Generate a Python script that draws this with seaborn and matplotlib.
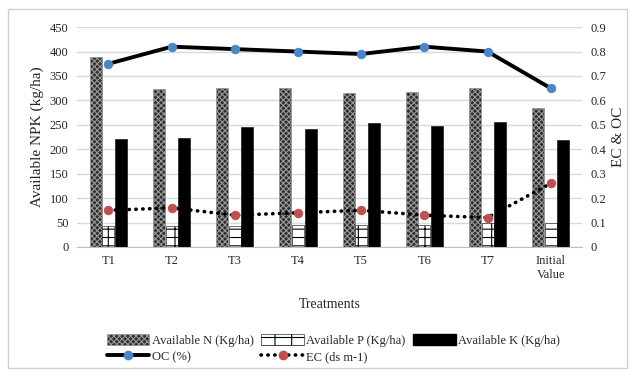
import numpy as np
import pandas as pd
import matplotlib.pyplot as plt
import seaborn as sns
from matplotlib.patches import Patch, Rectangle
from matplotlib.lines import Line2D
from matplotlib.ticker import FuncFormatter

# data
treatments = ["T1", "T2", "T3", "T4", "T5", "T6", "T7", "Initial\nValue"]
avail_n = [388, 323, 325, 325, 316, 317, 325, 284]
avail_p = [42, 43, 42, 45, 44, 44, 50, 50]
avail_k = [221, 224, 245, 241, 253, 247, 256, 218]
oc = [0.75, 0.82, 0.81, 0.80, 0.79, 0.82, 0.80, 0.65]
ec = [0.15, 0.16, 0.13, 0.14, 0.15, 0.13, 0.12, 0.26]

nutrients = ["Available N (Kg/ha)", "Available P (Kg/ha)", "Available K (Kg/ha)"]

sns.set_style("white")
plt.rcParams["font.family"] = ["Liberation Serif", "DejaVu Serif"]
plt.rcParams["hatch.linewidth"] = 0.8

bars = pd.DataFrame({
    "Treatment": treatments * 3,
    "Nutrient": np.repeat(nutrients, len(treatments)),
    "Value": avail_n + avail_p + avail_k,
})

fig = plt.figure(figsize=(6.35, 3.77), dpi=100)
ax = fig.add_axes([0.121, 0.345, 0.796, 0.583])

sns.barplot(data=bars, x="Treatment", y="Value", hue="Nutrient",
            palette=["#2e2e2e", "white", "black"], width=0.6, gap=0.05,
            saturation=1, ax=ax, legend=False)

# hatch styles: N dense cross, P brick-like, K solid
styles = [("#2e2e2e", "#9a9a9a", "xxxxxx"), ("white", "black", "-+"), ("black", "black", None)]
for cont, (fc, ec_, h) in zip(ax.containers, styles):
    for b in cont:
        b.set_facecolor(fc)
        b.set_edgecolor(ec_)
        b.set_linewidth(0.4)
        if h:
            b.set_hatch(h)

ax.set_ylim(0, 450)
ax.set_yticks(np.arange(0, 451, 50))
ax.set_xlim(-0.5, len(treatments) - 0.5)
ax.yaxis.grid(True, color="#d9d9d9", lw=1)
ax.set_axisbelow(True)
ax.set_ylabel("Available NPK (kg/ha)", fontsize=11)
ax.set_xlabel("Treatments", fontsize=10, labelpad=12)
ax.tick_params(axis="both", labelsize=9, length=0, pad=6)
for s in ["top", "left", "right"]:
    ax.spines[s].set_visible(False)
ax.spines["bottom"].set_color("#bfbfbf")

ax2 = ax.twinx()
x = np.arange(len(treatments))
dots = (0, (0.1, 1.8))
sns.lineplot(x=x, y=oc, ax=ax2, color="black", lw=2.8, marker="o", markersize=6,
             markerfacecolor="#4a86c8", markeredgecolor="#4a86c8")
sns.lineplot(x=x, y=ec, ax=ax2, color="black", lw=2.6, linestyle=dots,
             dash_capstyle="round", marker="o", markersize=6,
             markerfacecolor="#c0504d", markeredgecolor="#c0504d")
ax2.set_ylim(0, 0.9)
ax2.set_yticks(np.arange(0, 0.91, 0.1))
ax2.yaxis.set_major_formatter(FuncFormatter(lambda v, p: "0" if abs(v) < 1e-9 else f"{v:.1f}"))
ax2.set_ylabel("EC & OC", fontsize=11, labelpad=4)
ax2.tick_params(axis="y", labelsize=9, length=0, pad=6)
for s in ax2.spines.values():
    s.set_visible(False)

handles = [
    Patch(facecolor="#2e2e2e", edgecolor="#9a9a9a", hatch="xxxxxx", lw=0.4),
    Line2D([], [], color="black", lw=2.8, marker="o", markersize=6,
           markerfacecolor="#4a86c8", markeredgecolor="#4a86c8"),
    Patch(facecolor="white", edgecolor="black", hatch="-+", lw=0.4),
    Line2D([], [], color="black", lw=2.6, linestyle=dots, dash_capstyle="round",
           marker="o", markersize=6, markerfacecolor="#c0504d", markeredgecolor="#c0504d"),
    Patch(facecolor="black", edgecolor="black"),
]
labels = [nutrients[0], "OC (%)", nutrients[1], "EC (ds m-1)", nutrients[2]]
fig.legend(handles, labels, loc="center", bbox_to_anchor=(0.525, 0.075), ncol=3,
           frameon=False, fontsize=9, handlelength=3.4, handleheight=0.9,
           handletextpad=0.2, columnspacing=0.6, labelspacing=0.3)

fig.patches.append(Rectangle((0.012, 0.025), 0.976, 0.95, transform=fig.transFigure,
                             fill=False, edgecolor="#d0d0d0", lw=1))

fig.savefig("out.png", dpi=100)
